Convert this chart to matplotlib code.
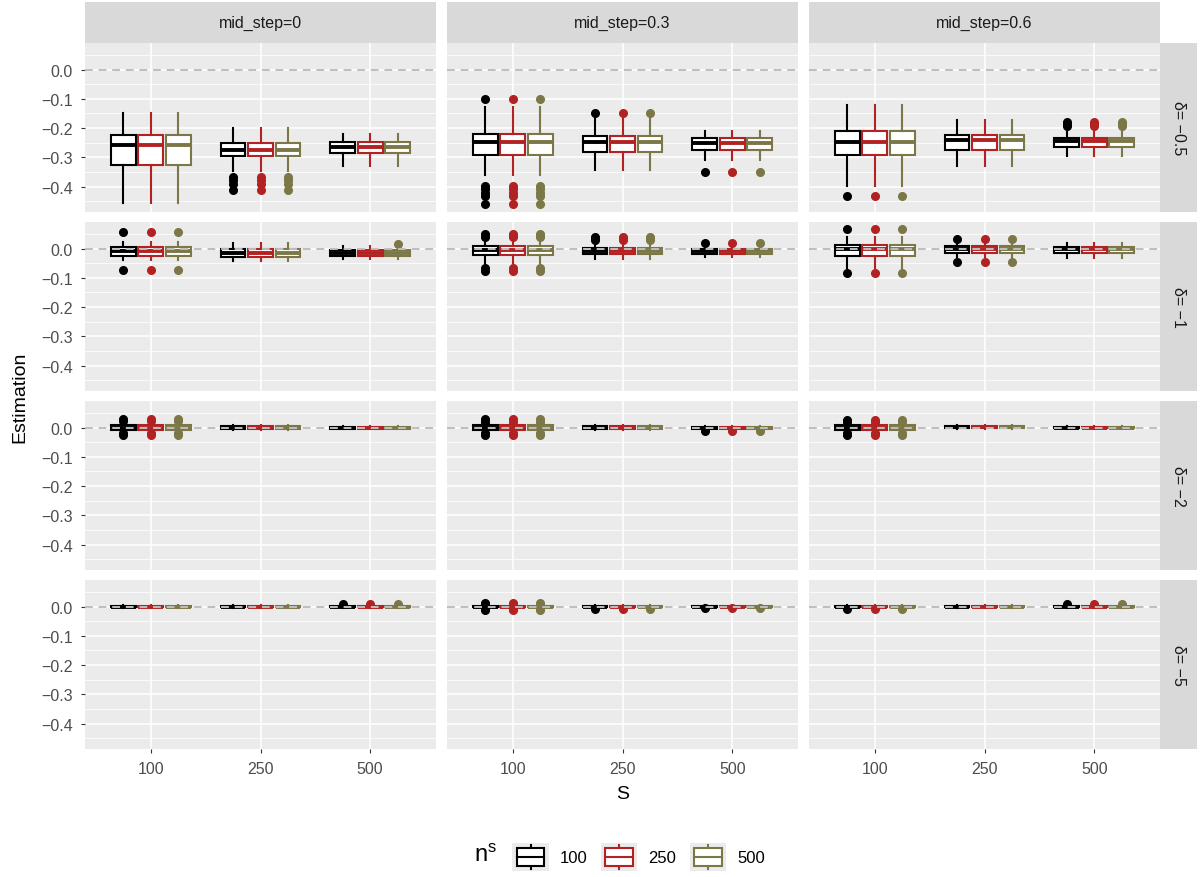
import matplotlib
matplotlib.use("Agg")
import matplotlib.pyplot as plt
from matplotlib.legend_handler import HandlerBase
from matplotlib.patches import Rectangle
from matplotlib.lines import Line2D

plt.rcParams["font.family"] = ["Liberation Sans", "DejaVu Sans"]

# facets: rows are delta, columns are mid_step; x categories are S
DELTAS = ["−0.5", "−1", "−2", "−5"]
MID_STEPS = ["0", "0.3", "0.6"]
S_LABELS = ["100", "250", "500"]
NS_LABELS = ["100", "250", "500"]
NS_COLORS = ["#000000", "#B22222", "#7B7746"]

# box statistics, indexed [delta][mid_step][S]
WHISK_LO = [
    [[-0.456, -0.348, -0.328], [-0.362, -0.342, -0.310], [-0.397, -0.328, -0.296]],
    [[-0.040, -0.042, -0.037], [-0.049, -0.034, -0.028], [-0.068, -0.028, -0.032]],
    [[-0.016, -0.008, -0.006], [-0.016, -0.009, -0.006], [-0.016, -0.006, -0.005]],
    [[-0.004, -0.004, -0.004], [-0.005, -0.004, -0.004], [-0.004, -0.004, -0.004]],
]
Q1 = [
    [[-0.325, -0.296, -0.285], [-0.293, -0.282, -0.274], [-0.291, -0.274, -0.264]],
    [[-0.025, -0.028, -0.025], [-0.023, -0.020, -0.017], [-0.025, -0.014, -0.015]],
    [[-0.008, -0.004, -0.004], [-0.008, -0.004, -0.004], [-0.008, -0.003, -0.003]],
    [[-0.002, -0.002, -0.002], [-0.003, -0.002, -0.002], [-0.002, -0.002, -0.002]],
]
MEDIAN = [
    [[-0.259, -0.275, -0.264], [-0.248, -0.248, -0.251], [-0.248, -0.242, -0.245]],
    [[-0.009, -0.014, -0.015], [-0.006, -0.008, -0.008], [-0.002, 0.000, -0.003]],
    [[0.000, 0.000, -0.001], [0.000, 0.000, -0.001], [0.000, 0.002, 0.000]],
    [[0.000, 0.000, 0.000], [0.000, 0.000, 0.000], [0.000, 0.000, 0.000]],
]
Q3 = [
    [[-0.222, -0.251, -0.247], [-0.220, -0.228, -0.234], [-0.209, -0.222, -0.234]],
    [[0.006, 0.000, -0.006], [0.009, 0.003, 0.000], [0.011, 0.009, 0.006]],
    [[0.009, 0.004, 0.003], [0.009, 0.004, 0.003], [0.009, 0.006, 0.003]],
    [[0.002, 0.002, 0.002], [0.003, 0.002, 0.002], [0.002, 0.002, 0.002]],
]
WHISK_HI = [
    [[-0.150, -0.199, -0.219], [-0.128, -0.165, -0.211], [-0.120, -0.173, -0.205]],
    [[0.023, 0.020, 0.008], [0.028, 0.017, 0.006], [0.040, 0.017, 0.019]],
    [[0.017, 0.008, 0.005], [0.017, 0.008, 0.005], [0.017, 0.010, 0.005]],
    [[0.004, 0.004, 0.004], [0.005, 0.004, 0.004], [0.004, 0.004, 0.004]],
]
OUTLIERS = [
    [[[], [-0.368, -0.378, -0.392, -0.413], []],
     [[-0.099, -0.399, -0.410, -0.422, -0.433, -0.458], [-0.150], [-0.349]],
     [[-0.431], [], [-0.178, -0.185, -0.192]]],
    [[[0.057, -0.072], [], []],
     [[0.050, 0.045, 0.040, -0.068, -0.075], [0.040, 0.035, 0.030], [0.019]],
     [[0.068, -0.085], [0.034, -0.047], []]],
    [[[0.028, 0.022, -0.020, -0.025], [], []],
     [[0.028, 0.020, -0.020, -0.025], [], [-0.012]],
     [[0.027, 0.020, -0.020, -0.025], [], []]],
    [[[], [], [0.008]],
     [[0.012, 0.008, -0.008, -0.012], [-0.008], [-0.006]],
     [[-0.008], [], [0.008]]],
]
# outliers seen for a single n^s group only: (delta, mid_step, S, n^s, value)
EXTRA_OUTLIERS = [(1, 0, 2, 2, 0.015)]

W, H = 1201, 878
PANEL_X = [85, 447, 809]
PANEL_Y = [44, 223, 402, 581]
PANEL_W, PANEL_H = 351, 169
STRIP_TOP = 3
STRIP_RIGHT_W = 37

BG = "#EBEBEB"
STRIP_BG = "#D9D9D9"
TEXT_DARK = "#1A1A1A"
TICK_TEXT = "#4D4D4D"


def px_axes(x0, y0, x1, y1):
    return fig.add_axes([x0 / W, 1 - y1 / H, (x1 - x0) / W, (y1 - y0) / H])


fig = plt.figure(figsize=(W / 100, H / 100), dpi=100)

dodge = 0.25
box_w = 0.225
for r in range(len(DELTAS)):
    for c in range(len(MID_STEPS)):
        ax = px_axes(PANEL_X[c], PANEL_Y[r], PANEL_X[c] + PANEL_W, PANEL_Y[r] + PANEL_H)
        ax.set_facecolor(BG)
        for sp in ax.spines.values():
            sp.set_visible(False)
        for k, col in enumerate(NS_COLORS):
            stats = []
            for s in range(len(S_LABELS)):
                fl = list(OUTLIERS[r][c][s])
                fl += [v for (er, ec, es, en, v) in EXTRA_OUTLIERS
                       if (er, ec, es, en) == (r, c, s, k)]
                stats.append({
                    "whislo": WHISK_LO[r][c][s], "q1": Q1[r][c][s],
                    "med": MEDIAN[r][c][s], "q3": Q3[r][c][s],
                    "whishi": WHISK_HI[r][c][s], "fliers": fl,
                })
            pos = [s + 1 + (k - 1) * dodge for s in range(len(S_LABELS))]
            ax.bxp(stats, positions=pos, widths=box_w, patch_artist=True,
                   showcaps=False, manage_ticks=False,
                   boxprops=dict(facecolor="white", edgecolor=col, linewidth=1.5),
                   medianprops=dict(color=col, linewidth=2.8, solid_capstyle="butt"),
                   whiskerprops=dict(color=col, linewidth=1.5),
                   flierprops=dict(marker="o", markerfacecolor=col,
                                   markeredgecolor=col, markersize=5.5))
        ax.axhline(0, color="#BEBEBE", linestyle=(0, (4, 3)), linewidth=1.4, zorder=6)

        ax.set_xlim(0.4, 3.6)
        ax.set_ylim(-0.487, 0.091)
        ax.set_xticks([1, 2, 3])
        ax.set_xticklabels(S_LABELS)
        ax.set_yticks([-0.4, -0.3, -0.2, -0.1, 0.0])
        ax.set_yticklabels(["−0.4", "−0.3", "−0.2", "−0.1", "0.0"])
        ax.set_yticks([-0.45, -0.35, -0.25, -0.15, -0.05, 0.05], minor=True)
        ax.grid(which="major", color="white", linewidth=1.1)
        ax.grid(which="minor", axis="y", color="white", linewidth=0.55)
        ax.set_axisbelow(True)
        ax.tick_params(which="minor", length=0)
        ax.tick_params(which="major", length=3, width=0.8, color="#333333",
                       labelcolor=TICK_TEXT, labelsize=11.5, pad=6)
        if c != 0:
            ax.tick_params(axis="y", length=0, labelleft=False)
        if r != len(DELTAS) - 1:
            ax.tick_params(axis="x", length=0, labelbottom=False)

        # facet strips
        if r == 0:
            st = px_axes(PANEL_X[c], STRIP_TOP, PANEL_X[c] + PANEL_W, PANEL_Y[0])
            st.set_facecolor(STRIP_BG)
            st.set_xticks([])
            st.set_yticks([])
            for sp in st.spines.values():
                sp.set_visible(False)
            st.text(0.5, 0.5, f"mid_step={MID_STEPS[c]}", ha="center", va="center",
                    fontsize=11.5, color=TEXT_DARK, transform=st.transAxes)
        if c == len(MID_STEPS) - 1:
            x0 = PANEL_X[c] + PANEL_W
            st = px_axes(x0, PANEL_Y[r], x0 + STRIP_RIGHT_W, PANEL_Y[r] + PANEL_H)
            st.set_facecolor(STRIP_BG)
            st.set_xticks([])
            st.set_yticks([])
            for sp in st.spines.values():
                sp.set_visible(False)
            st.text(0.5, 0.5, f"δ= {DELTAS[r]}", ha="center", va="center",
                    rotation=-90, fontsize=11.5, color=TEXT_DARK, transform=st.transAxes)

# axis titles
fig.text(20 / W, 1 - 397 / H, "Estimation", rotation=90, ha="center", va="center",
         fontsize=14, color="black")
fig.text(622.5 / W, 1 - 795 / H, "S", ha="center", va="center",
         fontsize=14, color="black")


class BoxKey(HandlerBase):
    def create_artists(self, legend, orig_handle, xdescent, ydescent,
                       width, height, fontsize, trans):
        col = orig_handle.get_color()
        x0, y0 = -xdescent, -ydescent
        bg = Rectangle((x0, y0), width, height, facecolor=BG, edgecolor="none",
                       transform=trans)
        bw, bh = width * 0.75, height * 0.62
        bx, by = x0 + (width - bw) / 2, y0 + (height - bh) / 2
        box = Rectangle((bx, by), bw, bh, facecolor="white", edgecolor=col,
                        linewidth=1.5, transform=trans)
        xm = x0 + width / 2
        ym = y0 + height / 2
        lo = Line2D([xm, xm], [y0 + 0.08 * height, by], color=col, linewidth=1.5,
                    transform=trans)
        hi = Line2D([xm, xm], [by + bh, y0 + 0.92 * height], color=col, linewidth=1.5,
                    transform=trans)
        med = Line2D([bx, bx + bw], [ym, ym], color=col, linewidth=1.5, transform=trans)
        return [bg, lo, hi, box, med]


handles = [Line2D([], [], color=col) for col in NS_COLORS]
fig.legend(handles, NS_LABELS, handler_map={Line2D: BoxKey()}, ncol=3,
           loc="center", bbox_to_anchor=(638.5 / W, 1 - 858 / H),
           frameon=False, fontsize=12, handlelength=2.2, handleheight=2.2,
           handletextpad=0.65, columnspacing=0.8, borderpad=0, borderaxespad=0)
fig.text(497 / W, 1 - 856 / H, r"$\mathregular{n^s}$", ha="right", va="center",
         fontsize=17, color="black")

fig.savefig("out.png", dpi=100)
